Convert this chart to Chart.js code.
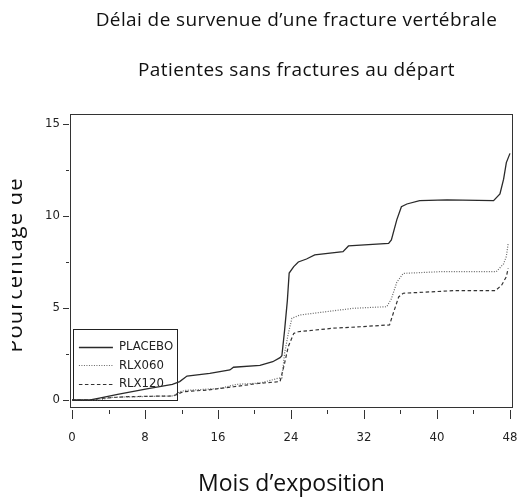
<!DOCTYPE html>
<html>
<head>
<meta charset="utf-8">
<script src="https://cdn.jsdelivr.net/npm/chart.js@4"></script>
<style>
  body { margin: 0; background: #fff; }
  #wrap { position: relative; width: 518px; height: 498px; }
  .txt { position: absolute; font-family: "Open Sans", Lato, sans-serif; color: #111; white-space: nowrap; }
  #t1 { top: 6px; left: 0; width: 593px; text-align: center; font-size: 19px; letter-spacing: 0.4px; }
  #t2 { top: 56px; left: 0; width: 593px; text-align: center; font-size: 19px; letter-spacing: 0.4px; }
  #yclip { position: absolute; left: 12px; top: 150px; width: 30px; height: 230px; overflow: hidden; }
  #ytitle { position: absolute; left: -99px; top: 100px; width: 200px; height: 30px; line-height: 30px; text-align: center;
            font-size: 22px; letter-spacing: 1px; transform: rotate(-90deg);
            font-family: "Open Sans", Lato, sans-serif; color: #111; white-space: nowrap; }
  canvas { position: absolute; left: 0; top: 0; }
</style>
</head>
<body>
<div id="wrap">
  <canvas id="chart" width="518" height="498"></canvas>
  <div class="txt" id="t1">Délai de survenue d’une fracture vertébrale</div>
  <div class="txt" id="t2">Patientes sans fractures au départ</div>
  <div id="yclip"><div id="ytitle">Pourcentage de</div></div>
</div>
<script>
// mois d'exposition / pourcentage cumulé
const placeboMois = [0, 2, 3, 5, 8.2, 11, 11.8, 12.6, 15.1, 17.3, 17.7, 20.6, 22, 22.8, 23, 23.3, 23.6, 23.8, 24.3, 24.8, 25.7, 26.6, 29.7, 30.3, 34.7, 35.0, 35.6, 36.1, 36.7, 38.1, 41.1, 46.2, 46.9, 47.3, 47.6, 48];
const placeboVal  = [0, 0, 0.1, 0.3, 0.6, 0.85, 1.0, 1.3, 1.45, 1.63, 1.78, 1.88, 2.08, 2.3, 2.4, 3.8, 5.4, 6.9, 7.25, 7.5, 7.66, 7.88, 8.06, 8.37, 8.51, 8.7, 9.8, 10.5, 10.65, 10.83, 10.87, 10.83, 11.2, 12.0, 12.9, 13.4];

const rlx060Mois = [0, 3, 4.2, 7, 11.1, 11.8, 12.4, 16.2, 18, 20.6, 22.6, 23, 23.3, 23.7, 24.1, 25, 27.9, 30.8, 34.5, 35.0, 35.6, 36.3, 40.3, 46.5, 47.3, 47.6, 47.8];
const rlx060Val  = [0, 0, 0.14, 0.18, 0.22, 0.45, 0.52, 0.63, 0.85, 0.92, 1.18, 1.2, 2.55, 3.6, 4.44, 4.62, 4.8, 4.98, 5.07, 5.5, 6.4, 6.88, 6.97, 6.97, 7.4, 7.8, 8.5];

const rlx120Mois = [0, 2, 3.5, 5.9, 11.1, 12.2, 14.8, 17.7, 20.4, 22.8, 23.3, 23.7, 24.3, 24.8, 28.6, 31.6, 34.8, 35.2, 35.8, 36.3, 41.8, 46.4, 47.1, 47.6, 47.8];
const rlx120Val  = [0, 0, 0.1, 0.18, 0.22, 0.45, 0.54, 0.72, 0.9, 1.0, 2.0, 2.9, 3.62, 3.71, 3.9, 3.98, 4.08, 4.7, 5.6, 5.8, 5.94, 5.94, 6.25, 6.7, 7.16];

const xTicks = [0, 4, 8, 12, 16, 20, 24, 28, 32, 36, 40, 44, 48];
const yTicks = [0, 2.5, 5, 7.5, 10, 12.5, 15];

const tickFont = { family: "'Liberation Sans Narrow', 'DejaVu Sans Condensed', sans-serif", size: 13 };

function points(mois, val) {
  return mois.map((m, i) => ({ x: m, y: val[i] }));
}

// légende encadrée, sous les courbes
const legende = {
  id: "legende",
  beforeDatasetsDraw(chart) {
    const ctx = chart.ctx;
    const sx = chart.scales.x, sy = chart.scales.y;
    const box = { l: sx.getPixelForValue(0.1), t: sy.getPixelForValue(3.85), r: sx.getPixelForValue(11.5), b: sy.getPixelForValue(0) };
    ctx.save();
    ctx.strokeStyle = "#222";
    ctx.lineWidth = 1;
    ctx.strokeRect(Math.round(box.l) + 0.5, Math.round(box.t) + 0.5, Math.round(box.r - box.l), Math.round(box.b - box.t));
    const rows = [box.t + 17.5, box.t + 36, box.t + 54.5];
    chart.data.datasets.forEach((ds, i) => {
      ctx.beginPath();
      ctx.strokeStyle = ds.borderColor;
      ctx.lineWidth = ds.borderWidth;
      ctx.setLineDash(ds.borderDash || []);
      ctx.moveTo(box.l + 6, Math.round(rows[i]) + 0.5);
      ctx.lineTo(box.l + 40, Math.round(rows[i]) + 0.5);
      ctx.stroke();
      ctx.setLineDash([]);
      ctx.fillStyle = "#222";
      ctx.font = "13px " + tickFont.family;
      ctx.textBaseline = "middle";
      ctx.fillText(ds.label, box.l + 46, rows[i]);
    });
    ctx.restore();
  }
};

// cadre + graduations (grandes / petites)
const cadre = {
  id: "cadre",
  afterDraw(chart) {
    const ctx = chart.ctx;
    const a = chart.chartArea;
    const sx = chart.scales.x, sy = chart.scales.y;
    ctx.save();
    ctx.strokeStyle = "#333";
    ctx.lineWidth = 1;
    ctx.strokeRect(a.left + 0.5, a.top + 0.5, a.right - a.left - 1, a.bottom - a.top - 1);
    ctx.beginPath();
    xTicks.forEach(v => {
      const px = Math.round(sx.getPixelForValue(v)) + 0.5;
      const len = v % 8 === 0 ? 9 : 4;
      ctx.moveTo(px, a.bottom + 2);
      ctx.lineTo(px, a.bottom + 2 + len);
    });
    yTicks.forEach(v => {
      const py = Math.round(sy.getPixelForValue(v)) + 0.5;
      const len = v % 5 === 0 ? 6 : 3;
      ctx.moveTo(a.left - 1, py);
      ctx.lineTo(a.left - 1 - len, py);
    });
    ctx.stroke();
    ctx.restore();
  }
};

new Chart(document.getElementById("chart"), {
  type: "line",
  data: {
    datasets: [
      { label: "PLACEBO", data: points(placeboMois, placeboVal), borderColor: "#2a2a2a", borderWidth: 1.3, borderDash: [] },
      { label: "RLX060", data: points(rlx060Mois, rlx060Val), borderColor: "#666", borderWidth: 1.2, borderDash: [1, 1.5] },
      { label: "RLX120", data: points(rlx120Mois, rlx120Val), borderColor: "#333", borderWidth: 1.2, borderDash: [3.5, 2.5] }
    ]
  },
  options: {
    responsive: false,
    animation: false,
    elements: { point: { radius: 0 }, line: { tension: 0 } },
    layout: { padding: { left: 30, top: 114, right: 5, bottom: 0 } },
    plugins: { legend: { display: false }, tooltip: { enabled: false } },
    scales: {
      x: {
        type: "linear",
        min: -0.22, max: 48.33,
        afterBuildTicks: s => { s.ticks = xTicks.map(v => ({ value: v })); },
        afterFit: s => { s.height = 90; s.paddingLeft = 0; s.paddingRight = 0; },
        grid: { display: false, drawTicks: false },
        border: { display: false },
        ticks: { font: tickFont, color: "#222", padding: 22, maxRotation: 0, autoSkip: false,
                 callback: v => (v % 8 === 0 ? v : "") },
        title: { display: true, text: "Mois d’exposition", color: "#111",
                 font: { family: "'Open Sans', Lato, sans-serif", size: 23 }, padding: { top: 0, bottom: 0 } }
      },
      y: {
        type: "linear",
        min: -0.435, max: 15.54,
        afterBuildTicks: s => { s.ticks = yTicks.map(v => ({ value: v })); },
        afterFit: s => { s.width = 40; s.paddingTop = 0; s.paddingBottom = 0; },
        grid: { display: false, drawTicks: false },
        border: { display: false },
        ticks: { font: tickFont, color: "#222", padding: 10, autoSkip: false,
                 callback: v => (v % 5 === 0 ? v : "") }
      }
    }
  },
  plugins: [legende, cadre]
});
</script>
</body>
</html>
